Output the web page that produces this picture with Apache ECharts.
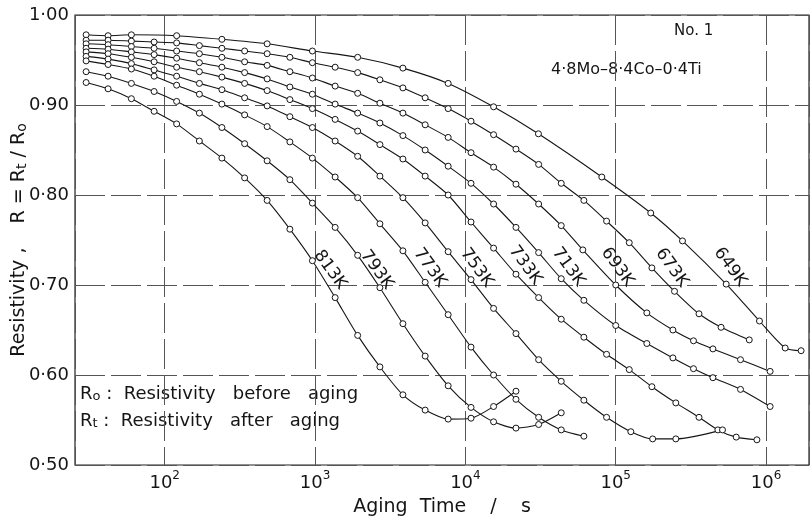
<!DOCTYPE html>
<html>
<head>
<meta charset="utf-8">
<script src="https://cdn.jsdelivr.net/npm/echarts@6/dist/echarts.min.js"></script>
<style>html,body{margin:0;background:#fff}#chart{width:811px;height:518px}</style>
</head>
<body>
<div id="chart"></div>
<script>
// aging time (s) and R = Rt/Ro, one pair of arrays per temperature
var t649 = [30, 42, 60, 120, 240, 480, 960, 1920, 3840, 7680, 15400, 30600, 80800, 171000, 278000, 543000, 904000, 1340000, 1710000];
var r649 = [0.978, 0.977, 0.978, 0.977, 0.973, 0.968, 0.960, 0.953, 0.941, 0.924, 0.898, 0.868, 0.820, 0.780, 0.749, 0.701, 0.660, 0.630, 0.627];

var t673 = [30, 42, 60, 85, 120, 170, 240, 340, 480, 680, 960, 1360, 1920, 2700, 3840, 5400, 7680, 10900, 15400, 21700, 30700, 43400, 61400, 86900, 123000, 174000, 246000, 358000, 502000, 773000];
var r673 = [0.972, 0.972, 0.971, 0.970, 0.969, 0.966, 0.963, 0.960, 0.957, 0.953, 0.947, 0.942, 0.936, 0.928, 0.919, 0.908, 0.896, 0.882, 0.867, 0.851, 0.834, 0.813, 0.794, 0.771, 0.747, 0.719, 0.693, 0.668, 0.653, 0.639];

var t693 = [30, 42, 60, 85, 120, 170, 240, 340, 480, 680, 960, 1360, 1920, 2700, 3840, 5400, 7680, 10900, 15400, 21700, 30700, 43400, 60400, 100000, 161000, 240000, 329000, 443000, 676000, 1064000];
var r693 = [0.968, 0.967, 0.965, 0.963, 0.960, 0.957, 0.953, 0.948, 0.944, 0.937, 0.930, 0.921, 0.913, 0.902, 0.891, 0.878, 0.864, 0.847, 0.831, 0.812, 0.790, 0.766, 0.739, 0.700, 0.669, 0.650, 0.638, 0.629, 0.617, 0.604];

var t713 = [30, 42, 60, 85, 120, 170, 240, 340, 480, 680, 960, 1360, 1920, 2700, 3840, 5400, 7680, 10900, 15400, 21700, 30700, 43400, 61400, 100000, 161000, 240000, 329000, 443000, 676000, 1064000];
var r713 = [0.963, 0.962, 0.959, 0.956, 0.952, 0.947, 0.942, 0.936, 0.929, 0.920, 0.912, 0.901, 0.891, 0.880, 0.866, 0.850, 0.832, 0.813, 0.790, 0.764, 0.736, 0.707, 0.683, 0.655, 0.635, 0.619, 0.607, 0.597, 0.584, 0.565];

var t733 = [30, 42, 60, 85, 120, 170, 240, 340, 480, 680, 960, 1360, 1920, 2700, 3840, 5400, 7680, 10900, 15400, 21700, 30700, 43400, 61400, 86900, 123000, 174000, 251000, 358000, 478000, 633000, 869000];
var r733 = [0.959, 0.957, 0.953, 0.948, 0.942, 0.937, 0.931, 0.924, 0.916, 0.906, 0.896, 0.884, 0.871, 0.856, 0.840, 0.821, 0.800, 0.770, 0.741, 0.712, 0.686, 0.662, 0.642, 0.623, 0.606, 0.587, 0.569, 0.553, 0.539, 0.531, 0.528];

var t753 = [30, 42, 60, 85, 120, 170, 240, 340, 480, 680, 960, 1360, 1920, 2700, 3840, 5400, 7680, 10900, 15400, 21700, 30700, 43400, 61400, 86900, 126000, 176000, 251000, 513000];
var r753 = [0.954, 0.951, 0.946, 0.939, 0.932, 0.924, 0.917, 0.908, 0.899, 0.887, 0.875, 0.860, 0.843, 0.821, 0.797, 0.769, 0.737, 0.706, 0.674, 0.646, 0.617, 0.593, 0.572, 0.553, 0.537, 0.529, 0.529, 0.539];

var t773 = [30, 42, 60, 85, 120, 170, 240, 340, 480, 680, 960, 1360, 1920, 2700, 3840, 5400, 7680, 10900, 15400, 21700, 30700, 43400, 61400];
var r773 = [0.949, 0.945, 0.940, 0.932, 0.922, 0.912, 0.901, 0.889, 0.876, 0.859, 0.841, 0.820, 0.797, 0.768, 0.738, 0.703, 0.667, 0.631, 0.600, 0.573, 0.553, 0.539, 0.532];

var t793 = [30, 42, 60, 85, 120, 170, 240, 340, 480, 680, 960, 1360, 1920, 2700, 3840, 5400, 7680, 10900, 15400, 21700, 30700, 43400];
var r793 = [0.937, 0.932, 0.924, 0.915, 0.904, 0.891, 0.875, 0.857, 0.838, 0.817, 0.791, 0.764, 0.733, 0.697, 0.657, 0.621, 0.588, 0.564, 0.548, 0.541, 0.545, 0.558];

var t813 = [30, 42, 60, 85, 120, 170, 240, 340, 480, 680, 960, 1360, 1920, 2700, 3840, 5400, 7680, 10900, 15400, 21700];
var r813 = [0.925, 0.918, 0.907, 0.893, 0.879, 0.860, 0.841, 0.819, 0.794, 0.762, 0.727, 0.686, 0.644, 0.609, 0.578, 0.561, 0.551, 0.552, 0.565, 0.582];

var temps = ['649K', '673K', '693K', '713K', '733K', '753K', '773K', '793K', '813K'];
var times = [t649, t673, t693, t713, t733, t753, t773, t793, t813];
var ratios = [r649, r673, r693, r713, r733, r753, r773, r793, r813];

// where each temperature label sits (time, R)
var labelAt = [[577000, 0.720], [236000, 0.719], [102600, 0.720], [48400, 0.720], [25000, 0.722],
               [11900, 0.719], [5800, 0.719], [2570, 0.717], [1260, 0.717]];

var ink = '#151515';
var font = 'DejaVu Sans';

var chart = echarts.init(document.getElementById('chart'));

var series = temps.map(function (name, i) {
  return {
    name: name,
    type: 'line',
    smooth: 0.25,
    symbol: 'circle',
    symbolSize: 6,
    lineStyle: {color: ink, width: 1.1},
    itemStyle: {color: '#fff', borderColor: ink, borderWidth: 1},
    data: times[i].map(function (t, j) { return [t, ratios[i][j]]; }),
    markPoint: {
      silent: true,
      symbol: 'circle',
      symbolSize: 0,
      data: [{coord: labelAt[i]}],
      label: {show: true, position: 'inside', formatter: name, rotate: -54,
              fontSize: 17, color: ink, fontFamily: font}
    }
  };
});

var option = {
  animation: false,
  textStyle: {fontFamily: font, color: ink},
  grid: {left: 75, right: 2, top: 15, bottom: 53, show: true, outerBoundsMode: 'none',
         borderColor: '#222', borderWidth: 1.2},
  xAxis: {
    type: 'log',
    logBase: 10,
    min: 25.3,
    max: 1930000,
    axisLine: {show: false},
    axisTick: {show: false},
    splitLine: {show: true, lineStyle: {color: '#555', width: 1, type: [30, 6]}},
    axisLabel: {
      showMinLabel: false, showMaxLabel: false, margin: 5,
      formatter: function (v) {
        return '{b|10}{s|' + Math.round(Math.log10(v)) + '}';
      },
      rich: {
        b: {fontSize: 18, color: ink, fontFamily: font},
        s: {fontSize: 12, color: ink, fontFamily: font, padding: [0, 0, 14, 0]}
      }
    },
    name: 'Aging  Time    /    s',
    nameLocation: 'middle',
    nameMoveOverlap: false,
    nameGap: 33,
    nameTextStyle: {fontSize: 19, color: ink, fontFamily: font}
  },
  yAxis: {
    type: 'value',
    min: 0.5,
    max: 1.0,
    interval: 0.1,
    axisLine: {show: false},
    axisTick: {show: false},
    splitLine: {show: true, lineStyle: {color: '#555', width: 1, type: [30, 6]}},
    axisLabel: {
      fontSize: 18, color: ink, margin: 6,
      formatter: function (v) { return v.toFixed(2).replace('.', '·'); }
    },
    name: 'Resistivity ,    R = R{s|t} / R{s|o}',
    nameLocation: 'middle',
    nameMoveOverlap: false,
    nameGap: 46,
    nameTextStyle: {fontSize: 19, color: ink, fontFamily: font,
                    rich: {s: {fontSize: 14, color: ink, fontFamily: font, padding: [6, 0, 0, 0]}}}
  },
  graphic: [
    {type: 'text', left: 674, top: 24, style: {text: 'No. 1', fontSize: 15, fill: ink, fontFamily: font}},
    {type: 'text', left: 551, top: 62, style: {text: '4·8Mo–8·4Co–0·4Ti', fontSize: 16, fill: ink, fontFamily: font}},
    {type: 'text', left: 80, top: 385, style: {text: 'R{s|o} :  Resistivity   before   aging', fontSize: 18, fill: ink, fontFamily: font,
      rich: {s: {fontSize: 13, fill: ink, fontFamily: font, padding: [6, 0, 0, 0]}}}},
    {type: 'text', left: 80, top: 412, style: {text: 'R{s|t} :  Resistivity   after   aging', fontSize: 18, fill: ink, fontFamily: font,
      rich: {s: {fontSize: 13, fill: ink, fontFamily: font, padding: [6, 0, 0, 0]}}}}
  ],
  series: series
};

chart.setOption(option);
</script>
</body>
</html>
